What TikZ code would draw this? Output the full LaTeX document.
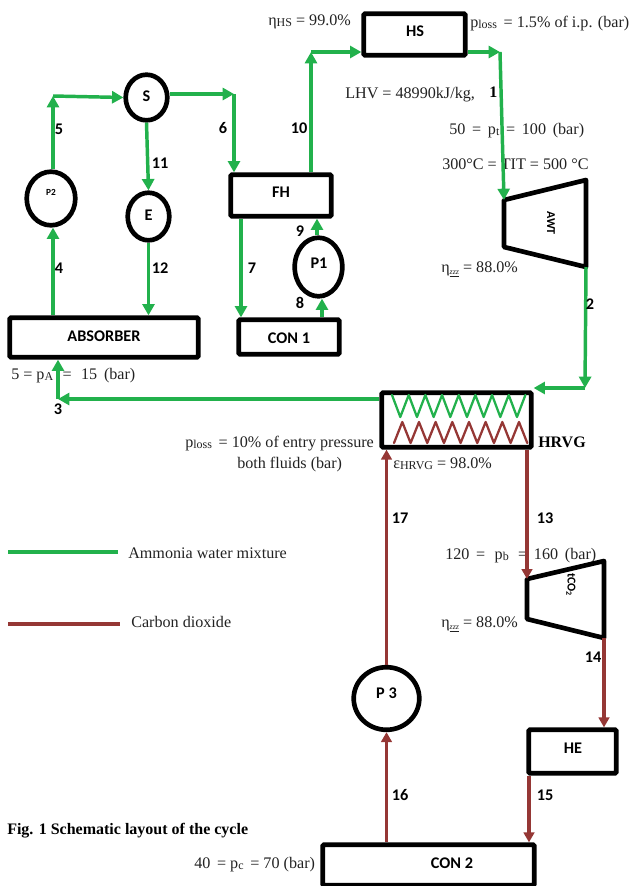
\documentclass[tikz,border=0pt]{standalone}
\usepackage{fontspec}
\setmainfont{Liberation Serif}
\newfontfamily\lab{Carlito}
\usetikzlibrary{arrows.meta,shapes.geometric}
\definecolor{gr}{HTML}{22B14C}
\definecolor{rd}{HTML}{953735}
\definecolor{tx}{HTML}{222222}
\newcommand{\sbs}[1]{\raisebox{-0.25ex}{\fontsize{9}{9}\selectfont #1}}
\newcommand{\zsub}{\raisebox{-0.3ex}{\fontsize{6}{6}\selectfont\itshape\underline{zzz}}}
\tikzset{
 x=0.75pt,y=-0.75pt,
 unit/.style={draw=black,line width=3.5pt,fill=white,rounded corners=1pt,inner sep=0pt},
 dims/.style 2 args={minimum width={(#1-3.4)*0.75pt},minimum height={(#2-3.4)*0.75pt}},
 lbl/.style={font=\lab\bfseries\fontsize{12.2}{14}\selectfont,inner sep=0pt,text=black,anchor=center},
 txt/.style={font=\fontsize{12.1}{14}\selectfont,inner sep=0pt,anchor=base west,text=tx},
 bdt/.style={font=\bfseries\fontsize{12}{14}\selectfont,text=black},
 gflow/.style={draw=gr,line width=2.6pt,-{Triangle[length=8.5pt,width=9pt]}},
 rflow/.style={draw=rd,line width=2.8pt,-{Triangle[length=7.5pt,width=8pt]}},
 gline/.style={draw=gr,line width=2.6pt},
 rline/.style={draw=rd,line width=2.6pt},
 zig/.style={line width=1.7pt,line join=round,line cap=round},
}
\begin{document}
\begin{tikzpicture}
\useasboundingbox (0,0) rectangle (630,886);
% texts under the flow lines
\node[txt] (t1) at (268,25) {η\sbs{HS} = 99.0\%};
\node[txt] (t2) at (470,27) {p\sbs{loss} \,= 1.5\% of i.p. (bar)};
\node[txt] (t3) at (345,98) {LHV = 48990kJ/kg,};
\node[txt,bdt] (n1) at (489,97) {1};
\node[txt] (t4) at (449,134) {50 \,=\, p\sbs{t} \,=\, 100 \,(bar)};
\node[txt] (t5) at (442,169) {300°C = TIT = 500 °C};
\node[txt] (t6) at (441,272) {η\zsub{} = 88.0\%};
\node[txt] (t7) at (11,379) {5 = p\sbs{A} \,\,=\,\, 15 \,(bar)};
\node[txt] (t8) at (185,447) {p\sbs{loss} \,= 10\% of entry pressure};
\node[txt] (t9) at (237,468) {both fluids (bar)};
\node[txt,bdt] (t10) at (538,447) {HRVG};
\node[txt] (t11) at (393,468) {ε\sbs{HRVG} = 98.0\%};
\node[txt] (t12) at (445,559) {120 \,=\,\, p\sbs{b} \,\,=\, 160 \,(bar)};
\node[txt] (t13) at (441,627) {η\zsub{} = 88.0\%};
\node[txt] (t14) at (194,868) {40 \,= p\sbs{c} \,= 70 (bar)};
\node[txt] (t15) at (128,558) {Ammonia water mixture};
\node[txt] (t16) at (131,627) {Carbon dioxide};
\node[txt,bdt] (t17) at (7,834) {Fig. 1 Schematic layout of the cycle};
% units
\node[unit,dims={105}{45}] (HS) at (414.5,34.5) {};
\node[unit,dims={104}{45}] (FH) at (281,195.5) {};
\node[unit,dims={104}{38}] (CON1) at (289,337) {};
\node[unit,dims={192}{43}] (ABS) at (104,337.5) {};
\node[unit,dims={91}{47}] (HE) at (572.5,751.5) {};
\node[unit,dims={215}{44}] (CON2) at (428.5,865) {};
\node[unit,dims={153}{58}] (HX) at (456.5,420) {};
\node[unit,ellipse,dims={52}{57}] (P2) at (51,198.5) {};
\node[unit,ellipse,dims={45}{49}] (S) at (146.5,97.5) {};
\node[unit,ellipse,dims={45}{51}] (E) at (148.5,216.5) {};
\node[unit,ellipse,dims={51}{62}] (P1) at (318.5,267) {};
\node[unit,ellipse,dims={69}{66}] (P3) at (386.5,698.5) {};
\draw[line width=3.5pt,line join=round] (504,200) coordinate (awtin) -- (586,180) -- (586,267) coordinate (awtout) -- (504,247) -- cycle;
\draw[line width=3.5pt,line join=round] (527,579) coordinate (coin) -- (604,561) -- (604,638) coordinate (coout) -- (527,619) -- cycle;
% unit labels
\node[lbl] (lHS) at (415,31) {HS};
\node[lbl] (lFH) at (281,192) {FH};
\node[lbl] (lCON1) at (289,338) {CON 1};
\node[lbl] (lABS) at (104,336) {ABSORBER};
\node[lbl] (lHE) at (573,748) {HE};
\node[lbl] (lCON2) at (452,863) {CON 2};
\node[lbl,font=\lab\bfseries\fontsize{7}{8}\selectfont] (lP2) at (51,192) {P2};
\node[lbl] (lS) at (146.5,96) {S};
\node[lbl] (lE) at (148.5,215) {E};
\node[lbl] (lP1) at (319,263) {P1};
\node[lbl] (lP3) at (386.5,693) {P 3};
\node[lbl,rotate=-90,font=\lab\bfseries\fontsize{9}{10}\selectfont] (lAWT) at (551,223) {AWT};
\node[lbl,rotate=-90,font=\lab\bfseries\fontsize{9}{10}\selectfont] (lCO) at (571,585) {tCO\textsubscript{2}};
% corners and line guides
\coordinate (c5) at (53,96);
\coordinate (c6) at (234,94);
\coordinate (c10) at (311,52);
\coordinate (c1) at (500,52);
\coordinate (c2) at (585,388);
\coordinate (c3) at (58,399);
\coordinate (c7) at (241,0);
\coordinate (c8) at (322,0);
\coordinate (c9) at (317,0);
\coordinate (c13) at (527,0);
\coordinate (c14) at (604,0);
\coordinate (c15) at (529,0);
% zigzags
\draw[gline,zig] (392,395) \foreach \k in {0,...,7} {-- ({400.3+\k*16.67},417) -- ({408.7+\k*16.67},395)};
\draw[rline,zig] (394,443) \foreach \k in {0,...,7} {-- ({402.3+\k*16.67},422) -- ({410.6+\k*16.67},443)};
% green flows
\draw[gflow] (P2.north -| c5) -- (c5);
\draw[gflow] (c5) -- (S.west);
\draw[gflow] (S.east |- c6) -- (c6);
\draw[gflow] (c6) -- (c6 |- FH.north);
\draw[gflow] (FH.north -| c10) -- (c10);
\draw[gflow] (c10) -- (c10 -| HS.west);
\draw[gflow] (c1 -| HS.east) -- (c1);
\draw[gflow] (c1) -- (awtin);
\draw[gflow] (awtout) -- (c2);
\draw[gflow] (c2) -- (c2 -| HX.east);
\draw[gflow] (HX.west |- c3) -- (c3);
\draw[gflow] (c3) -- (c3 |- ABS.south);
\draw[gflow] (ABS.north -| c5) -- (P2.south -| c5);
\draw[gflow] (S.south) -- (E.north);
\draw[gflow] (E.south) -- (ABS.north -| E.south);
\draw[gflow] (FH.south -| c7) -- (CON1.north -| c7);
\draw[gflow] (CON1.north -| c8) -- (P1.south -| c8);
\draw[gflow] (P1.north -| c9) -- (FH.south -| c9);
% red flows
\draw[rflow] (HX.south -| c13) -- (coin);
\draw[rflow] (coout) -- (HE.north -| c14);
\draw[rflow] (HE.south -| c15) -- (CON2.north -| c15);
\draw[rflow] (CON2.north -| P3.south) -- (P3.south);
\draw[rflow] (P3.north) -- (HX.south -| P3.north);
% legend
\coordinate (lg1) at (8,552);\coordinate (lg2) at (118,552);
\coordinate (lr1) at (8,624);\coordinate (lr2) at (120,624);
\draw[gline] (lg1) -- (lg2);
\draw[rline] (lr1) -- (lr2);
% stream numbers
\node[lbl] (n2) at (590,304) {2};
\node[lbl] (n3) at (58,409) {3};
\node[lbl] (n4) at (59,268) {4};
\node[lbl] (n5) at (59,129) {5};
\node[lbl] (n6) at (223,128) {6};
\node[lbl] (n7) at (252,268) {7};
\node[lbl] (n8) at (300,303) {8};
\node[lbl] (n9) at (300,231) {9};
\node[lbl] (n10) at (299,128) {10};
\node[lbl] (n11) at (160,163) {11};
\node[lbl] (n12) at (160,268) {12};
\node[lbl] (n13) at (545,518) {13};
\node[lbl] (n14) at (593,657) {14};
\node[lbl] (n15) at (545,795) {15};
\node[lbl] (n16) at (400,795) {16};
\node[lbl] (n17) at (400,518) {17};
\end{tikzpicture}
\end{document}
